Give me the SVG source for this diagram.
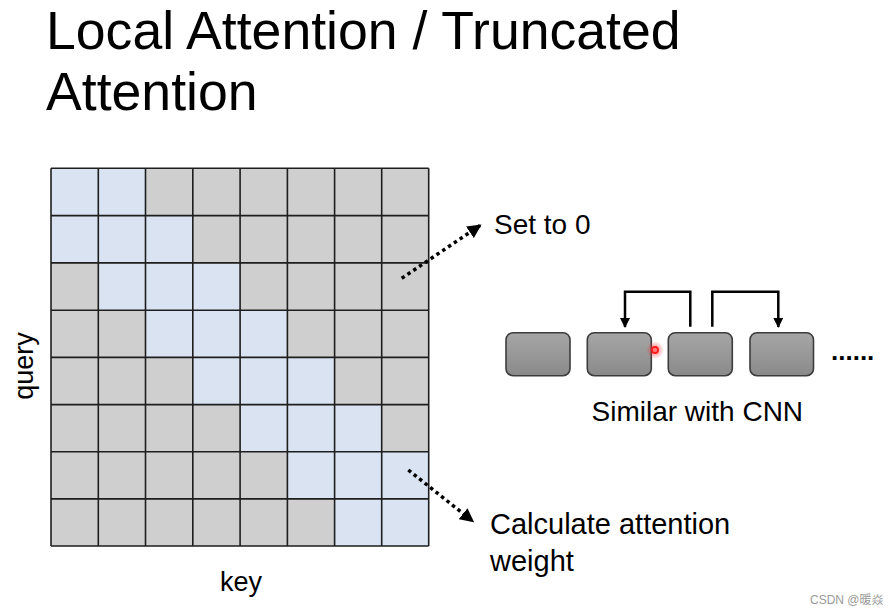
<svg xmlns="http://www.w3.org/2000/svg" width="893" height="616" viewBox="0 0 893 616">
<defs>
<style>
text{font-family:"Liberation Sans",Arial,sans-serif;fill:#000}
.title{font-size:53.6px}
.lbl{font-size:28px}
.ax{font-size:27px}
.b{fill:#d9e3f2}
.g{fill:#cfcfcf}
.grid{stroke:#1e1e1e;stroke-width:1.6;fill:none}
.dot{stroke:#000;stroke-width:3.5;stroke-dasharray:3.5 3.5;fill:none}
.conn{stroke:#000;stroke-width:2.5;fill:none}
.box{fill:url(#bg);stroke:#3c3c3c;stroke-width:1.6}
.wm{font-family:"Liberation Sans","Noto Sans CJK SC",sans-serif;font-size:12px;fill:#9a9a9a}
</style>
<linearGradient id="bg" x1="0" y1="0" x2="0" y2="1">
<stop offset="0" stop-color="#a6a6a6"/>
<stop offset="1" stop-color="#8a8a8a"/>
</linearGradient>
<radialGradient id="glow">
<stop offset="0" stop-color="#ff3030" stop-opacity="0.7"/>
<stop offset="1" stop-color="#ff3030" stop-opacity="0"/>
</radialGradient>
<marker id="ah" markerWidth="10" markerHeight="10" refX="9" refY="5" orient="auto" markerUnits="userSpaceOnUse">
<path d="M0,0 L10,5 L0,10 z" fill="#000"/>
</marker>
<marker id="ah2" markerWidth="14" markerHeight="14" refX="13" refY="7" orient="auto" markerUnits="userSpaceOnUse">
<path d="M0,0 L14,7 L0,14 z" fill="#000"/>
</marker>
</defs>
<rect width="893" height="616" fill="#fff"/>

<g id="title">
<text class="title" x="46" y="49">Local Attention / Truncated</text>
<text class="title" x="46" y="110">Attention</text>
</g>

<g id="matrix">
<rect class="g" x="51" y="168.3" width="377.7" height="377.7"/>
<rect class="b" x="51" y="168.3" width="94.5" height="47.3"/>
<rect class="b" x="51" y="215.6" width="141.8" height="47.3"/>
<rect class="b" x="98.3" y="262.9" width="141.8" height="47.3"/>
<rect class="b" x="145.5" y="310.2" width="141.8" height="47.2"/>
<rect class="b" x="192.8" y="357.4" width="141.8" height="47.2"/>
<rect class="b" x="240.1" y="404.6" width="141.8" height="47.2"/>
<rect class="b" x="287.4" y="451.8" width="141.3" height="47.1"/>
<rect class="b" x="334.6" y="498.9" width="94.1" height="47.1"/>
<path class="grid" d="M51,168.3V546 M98.3,168.3V546 M145.5,168.3V546 M192.8,168.3V546 M240.1,168.3V546 M287.4,168.3V546 M334.6,168.3V546 M381.7,168.3V546 M428.7,168.3V546 M51,168.3H428.7 M51,215.6H428.7 M51,262.9H428.7 M51,310.2H428.7 M51,357.4H428.7 M51,404.6H428.7 M51,451.8H428.7 M51,498.9H428.7 M51,546H428.7"/>
</g>

<g id="axis-labels">
<text class="ax" x="241" y="591" text-anchor="middle">key</text>
<text class="ax" transform="translate(33,366) rotate(-90)" text-anchor="middle">query</text>
</g>

<g id="boxes">
<rect id="box1" class="box" x="506" y="332.7" width="64" height="43" rx="7"/>
<rect id="box2" class="box" x="587.3" y="332.7" width="64" height="43" rx="7"/>
<rect id="box3" class="box" x="668.3" y="332.7" width="64" height="43" rx="7"/>
<rect id="box4" class="box" x="750" y="332.7" width="63.5" height="43" rx="7"/>
<text x="831" y="360" style="font-size:26px;font-weight:bold">......</text>
</g>

<g id="connectors">
<path class="dot" d="M401.7,278.3 L480.7,225" marker-end="url(#ah2)"/>
<path class="dot" d="M408.3,470 L473.3,521.7" marker-end="url(#ah2)"/>
<path class="conn" d="M690.3,326.7 V291.7 H625 V327" marker-end="url(#ah)"/>
<path class="conn" d="M712.3,326.7 V291.7 H778.3 V327" marker-end="url(#ah)"/>
</g>

<g id="labels">
<text class="lbl" x="494" y="234">Set to 0</text>
<text class="lbl" x="591.5" y="421">Similar with CNN</text>
<text class="lbl" x="490" y="534" style="font-size:29px">Calculate attention</text>
<text class="lbl" x="490" y="571" style="font-size:29px">weight</text>
</g>

<g id="pointer">
<circle cx="655" cy="350" r="9" fill="url(#glow)"/>
<circle cx="655" cy="350" r="3" fill="none" stroke="#ff1a1a" stroke-width="1.8"/>
</g>

<text class="wm" x="810" y="604">CSDN @暖焱</text>
</svg>
